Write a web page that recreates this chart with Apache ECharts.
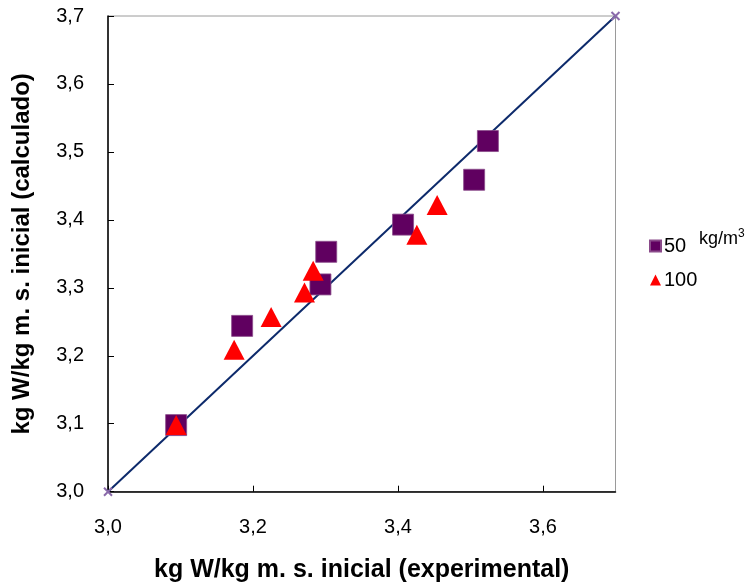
<!DOCTYPE html>
<html><head><meta charset="utf-8">
<script src="https://cdn.jsdelivr.net/npm/echarts@6/dist/echarts.min.js"></script>
<style>html,body{margin:0;padding:0;background:#fff}#c{width:753px;height:583px}</style>
</head><body><div id="c"></div>
<script>
const s50x = [3.524, 3.505, 3.407, 3.301, 3.293, 3.185, 3.094];
const s50y = [3.516, 3.459, 3.393, 3.353, 3.305, 3.244, 3.098];
const s100x = [3.454, 3.426, 3.283, 3.271, 3.225, 3.174, 3.094];
const s100y = [3.422, 3.378, 3.325, 3.293, 3.257, 3.209, 3.098];
const diagX = [3.0, 3.7];
const diagY = [3.0, 3.7];
const seriesNames = ['50', '100'];
const xTitle = 'kg W/kg m. s. inicial (experimental)';
const yTitle = 'kg W/kg m. s. inicial (calculado)';

const zip = (a, b) => a.map((v, i) => [v, b[i]]);
const fmt = v => v.toFixed(1).replace('.', ',');
const font = 'Liberation Sans, Arial, sans-serif';
const crossPath = 'path://M0,0L10,10M10,0L0,10';

const chart = echarts.init(document.getElementById('c'));
chart.setOption({
  animation: false,
  grid: { left: 108, right: 137.5, top: 16, bottom: 91.3, show: true, borderColor: '#9a9a9a', borderWidth: 1,
          containLabel: false, outerBoundsMode: 'none' },
  xAxis: {
    type: 'value', min: 3.0, max: 3.7, interval: 0.2,
    name: xTitle, nameLocation: 'middle', nameGap: 66,
    nameTextStyle: { fontFamily: font, fontWeight: 'bold', fontSize: 25, color: '#000' },
    axisLine: { show: true, lineStyle: { color: '#000', width: 1.5 } },
    axisTick: { show: true, inside: true, length: 6, lineStyle: { color: '#000' } },
    axisLabel: { formatter: fmt, fontFamily: font, fontSize: 20, color: '#000', margin: 26, showMaxLabel: false },
    splitLine: { show: false }
  },
  yAxis: {
    type: 'value', min: 3.0, max: 3.7, interval: 0.1,
    name: yTitle, nameLocation: 'middle', nameGap: 74, nameRotate: 90,
    nameTextStyle: { fontFamily: font, fontWeight: 'bold', fontSize: 24, color: '#000' },
    axisLine: { show: true, lineStyle: { color: '#000', width: 1.5 } },
    axisTick: { show: true, inside: true, length: 6, lineStyle: { color: '#000' } },
    axisLabel: { formatter: fmt, fontFamily: font, fontSize: 20, color: '#000', margin: 24 },
    splitLine: { show: false }
  },
  legend: {
    orient: 'vertical', left: 644, top: 231, itemWidth: 11, itemHeight: 11, itemGap: 14,
    textStyle: { fontFamily: font, fontSize: 20, color: '#000', padding: [0, 0, 0, -2] },
    data: [
      { name: seriesNames[0], icon: 'rect' },
      { name: seriesNames[1], icon: 'triangle' }
    ]
  },
  graphic: [{
    type: 'text', left: 699, top: 228,
    style: {
      text: 'kg/m{sup|3}', fontFamily: font, fontSize: 18, fill: '#000',
      rich: { sup: { fontSize: 12, verticalAlign: 'top', padding: [0, 0, 10, 0], fontFamily: font, fill: '#000' } }
    }
  }],
  series: [
    {
      name: 'diag', type: 'line', data: zip(diagX, diagY),
      symbol: crossPath, symbolSize: 8, showSymbol: true,
      lineStyle: { color: '#0d2a6b', width: 2 },
      itemStyle: { color: '#fff', borderColor: '#8a6aaa', borderWidth: 2 },
      z: 1
    },
    {
      name: seriesNames[0], type: 'scatter', data: zip(s50x, s50y),
      symbol: 'rect', symbolSize: 21,
      itemStyle: { color: '#600060', borderColor: '#8a4a8a', borderWidth: 0.8, opacity: 1 },
      z: 3
    },
    {
      name: seriesNames[1], type: 'scatter', data: zip(s100x, s100y),
      symbol: 'triangle', symbolSize: [21, 20],
      itemStyle: { color: '#ff0000', opacity: 1 },
      z: 4
    }
  ]
});
</script></body></html>
